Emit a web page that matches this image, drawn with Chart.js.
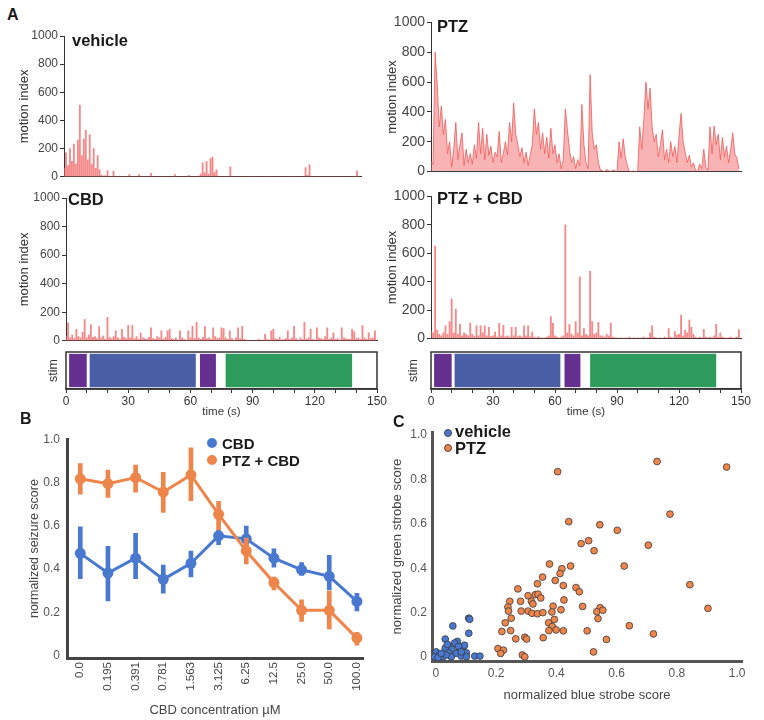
<!DOCTYPE html>
<html>
<head>
<meta charset="utf-8">
<script src="https://cdn.jsdelivr.net/npm/chart.js@4.4.1/dist/chart.umd.min.js"></script>
<style>
body { margin: 0; background: #fff; font-family: "Liberation Sans", Arial, sans-serif; }
#wrap { position: relative; width: 764px; height: 720px; overflow: hidden; }
canvas { position: absolute; }
.lab { position: absolute; font-weight: bold; color: #1a1a1a; white-space: nowrap; line-height: 1; }
.dot { position: absolute; border-radius: 50%; box-sizing: border-box; }
</style>
</head>
<body>
<div id="wrap">
  <canvas id="vehicle" width="370" height="160" style="left:0;top:26px"></canvas>
  <canvas id="ptz" width="370" height="170" style="left:380px;top:12px"></canvas>
  <canvas id="cbd" width="385" height="162" style="left:0;top:188px"></canvas>
  <canvas id="ptzcbd" width="370" height="163" style="left:380px;top:186px"></canvas>
  <canvas id="stimL" width="395" height="75" style="left:0;top:345px"></canvas>
  <canvas id="stimR" width="384" height="75" style="left:380px;top:345px"></canvas>
  <canvas id="doseB" width="380" height="295" style="left:0;top:425px"></canvas>
  <canvas id="scatterC" width="384" height="300" style="left:380px;top:420px"></canvas>

  <div class="lab" style="left:7px;top:7px;font-size:16px">A</div>
  <div class="lab" style="left:20px;top:411px;font-size:16px">B</div>
  <div class="lab" style="left:393px;top:414px;font-size:16px">C</div>

  <div class="lab" style="left:72px;top:32px;font-size:16.5px">vehicle</div>
  <div class="lab" style="left:437px;top:18px;font-size:16.5px">PTZ</div>
  <div class="lab" style="left:68px;top:191px;font-size:16.5px">CBD</div>
  <div class="lab" style="left:437px;top:190px;font-size:16.5px">PTZ + CBD</div>

  <div class="dot" style="left:207px;top:438px;width:10px;height:10px;background:#4878d0"></div>
  <div class="lab" style="left:222px;top:436px;font-size:15px">CBD</div>
  <div class="dot" style="left:207px;top:455px;width:10px;height:10px;background:#ee854a"></div>
  <div class="lab" style="left:222px;top:453px;font-size:15px">PTZ + CBD</div>

  <div class="dot" style="left:444px;top:429px;width:8px;height:8px;background:#4878d0;border:1px solid #444"></div>
  <div class="lab" style="left:455px;top:423px;font-size:16.5px">vehicle</div>
  <div class="dot" style="left:444px;top:444px;width:8px;height:8px;background:#ee854a;border:1px solid #444"></div>
  <div class="lab" style="left:455px;top:440px;font-size:16.5px">PTZ</div>
</div>
<script>
// motion index traces, one value per second (0..149 s)
const secs = Array.from({length: 150}, (_, i) => i);

const vehicleTrace = [
  60, 170, 80, 200, 110, 230, 90, 260, 510, 150,
  270, 330, 120, 300, 90, 200, 60, 150, 50, 10,
  5, 8, 45, 3, 0, 40, 2, 0, 5, 0,
  2, 0, 0, 15, 0, 0, 3, 0, 15, 0,
  0, 0, 2, 0, 25, 0, 0, 0, 0, 2,
  0, 0, 0, 0, 0, 3, 15, 0, 0, 0,
  0, 0, 2, 10, 0, 0, 0, 0, 5, 20,
  100, 30, 110, 20, 130, 140, 30, 50, 5, 0,
  0, 2, 0, 0, 70, 0, 0, 0, 0, 0,
  0, 0, 0, 2, 0, 0, 0, 0, 0, 0,
  0, 0, 0, 0, 0, 3, 0, 0, 0, 0,
  0, 0, 0, 0, 0, 0, 2, 0, 0, 0,
  0, 0, 65, 10, 85, 0, 0, 0, 2, 0,
  0, 0, 0, 0, 0, 0, 0, 0, 0, 0,
  0, 0, 0, 0, 0, 0, 0, 2, 40, 0
];

const ptzTrace = [
  70, 50, 800, 580, 300, 440, 250, 350, 120, 200,
  30, 150, 330, 80, 180, 260, 40, 150, 60, 120,
  50, 180, 90, 330, 120, 290, 80, 250, 110, 170,
  60, 130, 100, 270, 60, 120, 200, 110, 330, 200,
  460, 250, 180, 100, 160, 60, 130, 40, 110, 180,
  420, 250, 330, 150, 260, 120, 230, 90, 290, 120,
  180, 60, 120, 20, 80, 420, 280, 150, 60, 100,
  20, 80, 40, 450, 180, 60, 20, 650, 260, 150,
  180, 60, 10, 5, 0, 15, 5, 0, 10, 5,
  0, 200, 90, 220, 100, 40, 0, 0, 5, 0,
  0, 300, 150, 350, 600, 420, 560, 300, 200, 250,
  100, 180, 280, 80, 150, 60, 200, 100, 170, 60,
  240, 390, 200, 130, 60, 110, 30, 60, 10, 0,
  50, 20, 150, 30, 10, 300, 120, 305, 180, 250,
  80, 230, 100, 170, 60, 150, 260, 120, 90, 20
];

const cbdTrace = [
  30, 125, 20, 40, 15, 80, 30, 20, 60, 148,
  20, 40, 113, 25, 30, 15, 100, 20, 35, 10,
  164, 25, 15, 30, 70, 20, 10, 80, 25, 15,
  109, 20, 109, 15, 30, 10, 55, 20, 15, 10,
  25, 90, 15, 10, 30, 20, 70, 10, 25, 70,
  80, 15, 10, 20, 5, 70, 20, 10, 5, 70,
  20, 102, 15, 130, 20, 10, 25, 100, 15, 20,
  10, 90, 30, 15, 20, 90, 85, 20, 10, 70,
  15, 5, 20, 90, 15, 102, 10, 5, 0, 0,
  2, 0, 5, 10, 0, 5, 45, 10, 5, 70,
  80, 15, 10, 25, 5, 10, 15, 70, 10, 20,
  102, 15, 5, 20, 10, 130, 10, 20, 80, 10,
  5, 90, 20, 15, 10, 30, 90, 10, 20, 55,
  10, 15, 5, 90, 20, 15, 10, 10, 80, 65,
  15, 20, 10, 107, 20, 10, 55, 15, 20, 70
];

const ptzCbdTrace = [
  50, 40, 650, 60, 30, 20, 40, 90, 30, 120,
  280, 40, 207, 30, 100, 20, 40, 30, 20, 110,
  30, 15, 90, 20, 90, 40, 90, 20, 80, 15,
  20, 45, 10, 107, 20, 93, 15, 20, 10, 80,
  20, 80, 15, 20, 10, 90, 20, 90, 15, 45,
  10, 5, 15, 5, 2, 5, 10, 20, 155, 107,
  20, 10, 5, 10, 20, 800, 40, 100, 30, 20,
  120, 40, 435, 20, 70, 30, 20, 473, 120, 30,
  40, 115, 20, 20, 10, 30, 20, 110, 10, 5,
  5, 2, 5, 0, 5, 2, 10, 0, 5, 2,
  5, 0, 5, 10, 2, 5, 40, 90, 10, 5,
  2, 5, 0, 10, 5, 70, 10, 5, 50, 25,
  30, 165, 20, 60, 40, 130, 80, 30, 10, 5,
  10, 5, 65, 10, 5, 10, 5, 20, 100, 10,
  40, 10, 5, 2, 5, 10, 2, 5, 10, 62
];

// stimulus blocks [start s, end s]
const stimSegs = [[1.5, 10], [11.4, 62.6], [64.6, 72.3], [77, 138]];
const stimColors = ['#65308f', '#4a5fa6', '#65308f', '#2c9b5b'];

// panel B
const concLabels = ['0.0', '0.195', '0.391', '0.781', '1.563', '3.125', '6.25', '12.5', '25.0', '50.0', '100.0'];
const cbdMean = [0.473, 0.382, 0.451, 0.353, 0.427, 0.554, 0.540, 0.451, 0.397, 0.367, 0.251];
const cbdLo   = [0.356, 0.254, 0.356, 0.289, 0.364, 0.513, 0.484, 0.409, 0.371, 0.304, 0.207];
const cbdHi   = [0.596, 0.506, 0.566, 0.419, 0.483, 0.581, 0.599, 0.494, 0.431, 0.464, 0.289];
const ptzMean = [0.817, 0.795, 0.823, 0.756, 0.835, 0.653, 0.484, 0.338, 0.210, 0.210, 0.082];
const ptzLo   = [0.746, 0.731, 0.756, 0.662, 0.716, 0.581, 0.424, 0.304, 0.159, 0.124, 0.049];
const ptzHi   = [0.888, 0.858, 0.880, 0.847, 0.960, 0.713, 0.543, 0.364, 0.259, 0.299, 0.109];
const scoreTicks = [0, 0.2, 0.4, 0.6, 0.8, 1.0];

// panel C
const vehBlue = [0.109, 0.112, 0.056, 0.109, 0.031, 0.071, 0.062, 0.090, 0.047, 0.031, 0.053, 0.079, 0.101, 0.042, 0.067, 0.084,
  0.101, 0.051, 0.129, 0.146, 0.001, 0.012, 0.023, -0.004, 0.034, 0.007, 0.018, 0.038, 0.095, 0.075, 0.084];
const vehGreen = [0.175, 0.170, 0.140, 0.107, 0.081, 0.070, 0.063, 0.041, 0.045, 0.040, 0.034, 0.034, 0.019, 0.019, 0.016, 0.004,
  0.001, 0.001, 0.004, 0.004, 0.023, 0.009, 0.001, 0.001, 0.009, -0.003, 0.016, 0.057, 0.053, 0.048, 0.023];
const ptzBlue = [0.404, 0.734, 0.965, 0.777, 0.441, 0.544, 0.602, 0.507, 0.482, 0.525, 0.705, 0.625, 0.377, 0.418, 0.447, 0.412,
  0.354, 0.396, 0.337, 0.423, 0.465, 0.476, 0.843, 0.272, 0.306, 0.330, 0.339, 0.348, 0.245, 0.281, 0.317, 0.322,
  0.239, 0.241, 0.283, 0.306, 0.319, 0.337, 0.355, 0.389, 0.385, 0.415, 0.425, 0.487, 0.545, 0.534, 0.554, 0.538,
  0.903, 0.230, 0.250, 0.219, 0.248, 0.393, 0.374, 0.386, 0.399, 0.375, 0.423, 0.502, 0.642, 0.265, 0.295, 0.301,
  0.356, 0.566, 0.722, 0.206, 0.224, 0.215, 0.287, 0.295, 0.523];
const ptzGreen = [0.835, 0.881, 0.856, 0.644, 0.610, 0.596, 0.571, 0.524, 0.511, 0.479, 0.504, 0.410, 0.419, 0.398, 0.410, 0.376,
  0.360, 0.345, 0.330, 0.322, 0.313, 0.294, 0.326, 0.307, 0.276, 0.281, 0.283, 0.266, 0.251, 0.251, 0.251, 0.239,
  0.225, 0.207, 0.207, 0.207, 0.197, 0.195, 0.200, 0.229, 0.203, 0.213, 0.257, 0.228, 0.222, 0.204, 0.211, 0.173,
  0.219, 0.154, 0.175, 0.115, 0.119, 0.169, 0.154, 0.137, 0.122, 0.119, 0.118, 0.118, 0.141, 0.082, 0.089, 0.081,
  0.087, 0.079, 0.104, 0.038, 0.031, 0.016, 0.009, 0.001, 0.023];
const unitTicks = [0, 0.2, 0.4, 0.6, 0.8, 1.0];

const BLUE = '#4878d0';
const ORANGE = '#ee854a';

Chart.defaults.font.family = '"Liberation Sans", Arial, sans-serif';
Chart.defaults.color = '#444';
Chart.defaults.animation = false;
Chart.defaults.plugins.legend.display = false;
Chart.defaults.plugins.tooltip.enabled = false;

// dense traces are drawn as a jagged filled line, sparse ones as thin spikes
function traceChart(id, vals, yw, titlePad, fs, pad, dense) {
  const ds = dense
    ? {type: 'line', data: vals.map((v, i) => ({x: secs[i], y: v})), borderColor: 'rgba(240,90,90,0.8)', backgroundColor: 'rgba(242,105,105,0.5)', fill: 'origin', borderWidth: 1, pointRadius: 0, tension: 0}
    : {type: 'bar', data: vals.map((v, i) => ({x: secs[i], y: v})), backgroundColor: 'rgba(240,92,92,0.72)', borderWidth: 0, barThickness: 1.2};
  new Chart(document.getElementById(id), {
    type: 'bar',
    data: {datasets: [ds]},
    options: {
      responsive: false,
      layout: {padding: pad},
      scales: {
        x: {
          type: 'linear', min: 0, max: 150, offset: false,
          ticks: {display: false},
          grid: {display: false, drawTicks: false},
          border: {color: '#333'},
          afterFit: s => { s.height = 0; }
        },
        y: {
          min: 0, max: 1000,
          ticks: {stepSize: 200, callback: v => String(v), font: {size: fs}, color: '#444', padding: 2},
          grid: {drawOnChartArea: false, tickLength: 4, color: '#333'},
          border: {color: '#333'},
          title: {display: true, text: 'motion index', font: {size: 13}, color: '#333', padding: {top: titlePad, bottom: 0}},
          afterFit: s => { s.width = yw; }
        }
      }
    }
  });
}

traceChart('vehicle', vehicleTrace, 64, 17, 12, {top: 10, bottom: 7, left: 0, right: 9}, false);
traceChart('ptz', ptzTrace, 51, 5, 14, {top: 10, bottom: 6, left: 0, right: 9}, true);
traceChart('cbd', cbdTrace, 66, 17, 12, {top: 10, bottom: 2, left: 0, right: 8}, false);
traceChart('ptzcbd', ptzCbdTrace, 51, 5, 14, {top: 10, bottom: 2, left: 0, right: 9}, false);

const boxPlugin = {
  id: 'box',
  afterDraw(c) {
    const a = c.chartArea;
    c.ctx.save();
    c.ctx.strokeStyle = '#333';
    c.ctx.lineWidth = 1.5;
    c.ctx.strokeRect(a.left, a.top, a.right - a.left, a.bottom - a.top);
    c.ctx.restore();
  }
};

function stimChart(id, yw, titlePad, pad) {
  new Chart(document.getElementById(id), {
    type: 'bar',
    data: {
      labels: ['stim'],
      datasets: stimSegs.map((s, i) => ({
        data: [s],
        backgroundColor: stimColors[i],
        borderWidth: 0,
        barPercentage: 0.9,
        categoryPercentage: 1,
        grouped: false
      }))
    },
    options: {
      indexAxis: 'y',
      responsive: false,
      layout: {padding: pad},
      scales: {
        x: {
          type: 'linear', min: 0, max: 150,
          ticks: {stepSize: 10, autoSkip: false, maxRotation: 0, callback: v => (v % 30 === 0 ? v : ''), font: {size: 12}, color: '#333', padding: 1},
          grid: {drawOnChartArea: false, tickLength: 4, color: '#333'},
          border: {color: '#333', width: 1.5},
          title: {display: true, text: 'time (s)', font: {size: 11.5}, color: '#333', padding: {top: 0, bottom: 1}},
          afterFit: s => { s.height = 31; }
        },
        y: {
          ticks: {display: false},
          grid: {display: false, drawTicks: false},
          border: {display: false},
          title: {display: true, text: 'stim', font: {size: 12.5}, color: '#333', padding: {top: titlePad, bottom: 0}},
          afterFit: s => { s.width = yw; }
        }
      }
    },
    plugins: [boxPlugin]
  });
}

stimChart('stimL', 66, 46, {top: 7, bottom: 0, left: 0, right: 18});
stimChart('stimR', 51, 26, {top: 7, bottom: 0, left: 0, right: 23});

// B: dose response with error bars
new Chart(document.getElementById('doseB'), {
  type: 'line',
  data: {
    datasets: [
      {type: 'line', label: 'PTZ + CBD', data: ptzMean.map((m, i) => ({x: i, y: m})), borderColor: ORANGE, backgroundColor: ORANGE, borderWidth: 3, pointRadius: 5.5, pointBorderWidth: 0, order: 1},
      {type: 'bar', data: ptzLo.map((l, i) => ({x: i, y: [l, ptzHi[i]]})), backgroundColor: ORANGE, barThickness: 4, grouped: false, order: 2},
      {type: 'line', label: 'CBD', data: cbdMean.map((m, i) => ({x: i, y: m})), borderColor: BLUE, backgroundColor: BLUE, borderWidth: 3, pointRadius: 5.5, pointBorderWidth: 0, order: 3},
      {type: 'bar', data: cbdLo.map((l, i) => ({x: i, y: [l, cbdHi[i]]})), backgroundColor: BLUE, barThickness: 4, grouped: false, order: 4}
    ]
  },
  options: {
    responsive: false,
    layout: {padding: {top: 8, right: 17, left: 0, bottom: 0}},
    scales: {
      x: {
        type: 'linear', min: -0.48, max: 10.22, offset: false,
        afterBuildTicks: s => { s.ticks = concLabels.map((_, i) => ({value: i})); },
        ticks: {callback: v => concLabels[v], minRotation: 90, maxRotation: 90, autoSkip: false, font: {size: 11.5}, color: '#444', padding: 4},
        grid: {display: false, drawTicks: false},
        border: {color: '#444', width: 3},
        title: {display: true, text: 'CBD concentration µM', font: {size: 13}, color: '#444', padding: {top: 0, bottom: 2}},
        afterFit: s => { s.height = 62; }
      },
      y: {
        min: -0.01, max: 1.0,
        afterBuildTicks: s => { s.ticks = scoreTicks.map(v => ({value: v})); },
        ticks: {callback: v => (v === 0 ? '0' : v.toFixed(1)), font: {size: 12}, color: '#555', padding: 7},
        grid: {display: false, drawTicks: false},
        border: {color: '#444', width: 3},
        title: {display: true, text: 'normalized seizure score', font: {size: 12.5}, color: '#444', padding: {top: 27, bottom: 0}},
        afterFit: s => { s.width = 67; }
      }
    }
  }
});

// C: blue vs green strobe scores
new Chart(document.getElementById('scatterC'), {
  type: 'scatter',
  data: {
    datasets: [
      {label: 'vehicle', data: vehBlue.map((x, i) => ({x: x, y: vehGreen[i]})), backgroundColor: BLUE, borderColor: '#3a3a3a', borderWidth: 0.8, pointRadius: 3.4},
      {label: 'PTZ', data: ptzBlue.map((x, i) => ({x: x, y: ptzGreen[i]})), backgroundColor: ORANGE, borderColor: '#3a3a3a', borderWidth: 0.8, pointRadius: 3.4}
    ]
  },
  options: {
    responsive: false,
    layout: {padding: {top: 7, right: 22, left: 0, bottom: 0}},
    scales: {
      x: {
        min: -0.013, max: 1.016,
        afterBuildTicks: s => { s.ticks = unitTicks.map(v => ({value: v})); },
        ticks: {callback: v => (v === 0 ? '0' : v.toFixed(1)), font: {size: 12}, color: '#555', padding: 5},
        grid: {display: false, drawTicks: false},
        border: {color: '#555', width: 3},
        title: {display: true, text: 'normalized blue strobe score', font: {size: 13}, color: '#444', padding: {top: 0, bottom: 17}},
        afterFit: s => { s.height = 59; }
      },
      y: {
        min: -0.018, max: 1.013,
        afterBuildTicks: s => { s.ticks = unitTicks.map(v => ({value: v})); },
        ticks: {callback: v => (v === 0 ? '0' : v.toFixed(1)), font: {size: 12}, color: '#555', padding: 5},
        grid: {display: false, drawTicks: false},
        border: {color: '#555', width: 3},
        title: {display: true, text: 'normalized green strobe score', font: {size: 13}, color: '#444', padding: {top: 10, bottom: 0}},
        afterFit: s => { s.width = 52; }
      }
    }
  }
});
</script>
</body>
</html>
